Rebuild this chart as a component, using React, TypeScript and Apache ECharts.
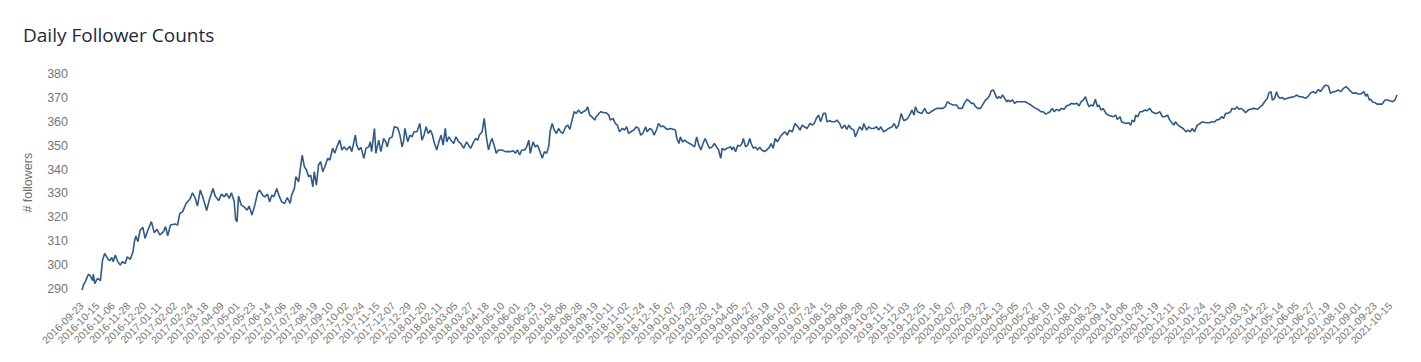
import React, { useEffect, useRef } from "react";
import * as echarts from "echarts";

// Daily category range of the x axis
const startDate = "2016-09-23";
const endDate = "2021-10-24";

// y-axis tick labels
const yTicks = [290, 300, 310, 320, 330, 340, 350, 360, 370, 380];

// Readings: [days since 2016-09-23, followers]
const readings2016to2017: [number, number][] = [
  [0, 289.6], [2, 291.6], [5, 293.3], [9, 296.2], [12, 295.4], [15, 293.5], [16, 296.2], [18, 292.3], [21, 294], [23, 294.4],
  [26, 293.5], [29, 302.1], [32, 304.9], [36, 302.8], [39, 301.8], [42, 303.2], [44, 301.4], [47, 304.2], [50, 301.8], [54, 300],
  [57, 301.4], [61, 300.7], [64, 303.5], [68, 302.4], [72, 305.6], [74, 309.8], [76, 312.2], [79, 309.8], [82, 314.6], [86, 315.8],
  [89, 311.2], [93, 314.6], [98, 318.2], [102, 313.6], [106, 315], [110, 312.6], [115, 314], [118, 316.1], [121, 312.3], [125, 316.8],
  [131, 317.2], [135, 316.8], [138, 321.6], [142, 322.3], [147, 325.8], [153, 327.9], [156, 330.3], [160, 327.9], [163, 324.7], [167, 331.4],
  [170, 328.9], [173, 326.1], [176, 322.8], [180, 327.5], [185, 332.1], [188, 328.9], [193, 327], [197, 329.7], [201, 328.6], [204, 330],
  [208, 327.9], [211, 330.3], [215, 326.5], [217, 319.1], [219, 318.2], [221, 328.9], [225, 325.1], [229, 324.4], [233, 323], [236, 324.7],
  [240, 321], [244, 325.1], [248, 330.3], [251, 331.4], [255, 329.3], [258, 328.6], [262, 329.7], [265, 326.5], [268, 329.3], [271, 328.6],
  [275, 332.1], [278, 329.3], [282, 326.5], [286, 325.8], [290, 328.3],
];

const readings2017to2018: [number, number][] = [
  [294, 325.8], [296, 329.3], [300, 332.1], [302, 337], [306, 334.9], [308, 339.8], [311, 346], [314, 341.2], [317, 339.8], [320, 337],
  [323, 337.7], [326, 332.8], [328, 339.1], [331, 333.5], [334, 341.9], [337, 343.3], [340, 339.1], [343, 341.2], [347, 344.7], [350, 344],
  [354, 348.9], [357, 346.8], [360, 349.5], [364, 352.3], [367, 348.2], [370, 349.5], [374, 348.2], [378, 349.8], [381, 347.5], [386, 354.4],
  [388, 350.2], [391, 348.2], [394, 349.3], [398, 344.7], [401, 348.9], [405, 349.5], [407, 351.6], [409, 347.5], [413, 357.2], [415, 346.8],
  [419, 352.3], [422, 347.5], [426, 353], [429, 351.6], [431, 349.5], [434, 353], [438, 353.7], [441, 357.9], [445, 357.6], [447, 356.5],
  [449, 354.4], [452, 349.5], [454, 351.6], [456, 357.2], [460, 351.6], [463, 354.4], [466, 353.7], [469, 355.8], [473, 355.8], [477, 359.3],
  [480, 352.3], [483, 354.4], [486, 357.9], [489, 355.1], [492, 356.5], [495, 354.4], [497, 351.6], [501, 348.2], [504, 351.6], [507, 354.4],
  [510, 350.2], [513, 357.2], [515, 351.6], [518, 353.7], [521, 352.3], [525, 350.9], [528, 353.7], [532, 351.6], [535, 350.9], [539, 348.9],
  [543, 351.6], [546, 350.2], [549, 348.9], [553, 351.6], [556, 353], [559, 352.3], [561, 354.4], [565, 355.8], [568, 361.4], [571, 353.7],
  [574, 348.2], [577, 351.6], [579, 353], [582, 350.2], [585, 346.8], [588, 348.2], [593, 348.2], [598, 347.5], [602, 347.5],
];

const readings2018to2019: [number, number][] = [
  [605, 347.5], [609, 347.9], [612, 346.8], [615, 348.2], [618, 346.1], [621, 348.2], [625, 348.2], [628, 349.5], [631, 352.3], [633, 346.8],
  [637, 351.6], [640, 349.5], [643, 350.2], [646, 348.2], [650, 344.7], [653, 347.5], [656, 346.8], [659, 349.5], [661, 355.8], [664, 359.3],
  [667, 356.5], [670, 355.1], [673, 357.2], [676, 355.8], [679, 355.1], [683, 357.9], [686, 358.6], [689, 356.8], [692, 360.7], [695, 364.2],
  [698, 363.5], [701, 364.9], [705, 363.5], [708, 364.2], [712, 364.9], [714, 366.3], [717, 362.8], [720, 362.1], [724, 360.7], [726, 362.1],
  [730, 363.5], [733, 364.2], [737, 363.8], [740, 363.8], [744, 362.8], [746, 360.7], [750, 361.4], [753, 359.3], [756, 358.6], [759, 355.8],
  [763, 357.2], [766, 356.5], [769, 357.9], [772, 355.1], [775, 355.8], [779, 356.5], [783, 357.9], [786, 357.2], [789, 354.4], [792, 355.1],
  [796, 357.9], [798, 355.8], [802, 357.2], [805, 356.5], [808, 354.4], [812, 357.2], [814, 359.3], [818, 357.9], [821, 358.2], [826, 356.8],
  [831, 357.2], [836, 356.8], [838, 356.5], [840, 353], [843, 350.9], [845, 353.7], [848, 351.6], [851, 352.3], [854, 351.6], [858, 350.9],
  [862, 350.2], [865, 349.5], [868, 353.7], [871, 350.2], [874, 348.2], [877, 350.9], [880, 353], [884, 350.2], [886, 348.9], [890, 349.5],
  [893, 350.9], [896, 349.5], [899, 348.2], [902, 344.7], [904, 348.9], [907, 348.2], [911, 348.9],
];

const readings2019to2020: [number, number][] = [
  [916, 349.5], [918, 348.2], [920, 349.5], [923, 347.5], [926, 350.2], [929, 349.8], [932, 350.9], [934, 353], [937, 349.5], [940, 350.2],
  [943, 353], [945, 350.9], [948, 348.9], [951, 349.5], [954, 348.2], [957, 349.3], [960, 348.2], [964, 347.5], [967, 348.2], [971, 349.5],
  [973, 350.9], [976, 348.9], [979, 353], [982, 351.6], [986, 353.7], [990, 355.1], [993, 355.8], [996, 354.4], [999, 356.5], [1003, 355.8],
  [1007, 359.3], [1011, 357.9], [1014, 356.5], [1017, 358.6], [1020, 357.9], [1024, 357.2], [1028, 359.3], [1031, 358.6], [1034, 359.3], [1037, 361.4],
  [1040, 362.8], [1043, 360], [1047, 363.5], [1050, 363.5], [1052, 360], [1056, 360.4], [1059, 360], [1063, 360], [1066, 360.7], [1070, 359.3],
  [1073, 357.2], [1077, 358.6], [1080, 356.8], [1083, 358.6], [1086, 357.2], [1090, 356.5], [1092, 353.7], [1095, 355.8], [1098, 357.9], [1102, 356.5],
  [1104, 359.3], [1108, 356.5], [1111, 357.9], [1114, 357.2], [1118, 357.2], [1122, 357.9], [1125, 356.5], [1128, 357.9], [1132, 355.8], [1136, 356.5],
  [1139, 357.2], [1144, 357.9], [1147, 359.3], [1150, 357.2], [1153, 358.6], [1157, 363.5], [1160, 360.7], [1163, 360.7], [1166, 361.4], [1170, 363.5],
  [1172, 364.9], [1175, 362.8], [1177, 366.3], [1180, 364.2], [1183, 363.8], [1186, 363.5], [1190, 365.6], [1193, 363.8], [1196, 363.5], [1199, 364.2],
  [1203, 364.9], [1207, 365.6], [1211, 365.6], [1216, 365.6], [1219, 366.3], [1222, 368.4], [1225, 367.7],
];

const readings2020to2021: [number, number][] = [
  [1230, 367], [1235, 367], [1238, 365.6], [1243, 365.6], [1246, 367.7], [1250, 369.4], [1254, 368.4], [1256, 367.7], [1259, 367.7], [1262, 366.3],
  [1265, 365.6], [1269, 365.6], [1273, 367.7], [1276, 369.1], [1279, 369.8], [1282, 371.2], [1284, 373], [1287, 373.3], [1289, 371.9], [1292, 369.8],
  [1295, 370.5], [1297, 369.8], [1300, 371.2], [1303, 369.8], [1306, 368.4], [1308, 369.1], [1310, 368.4], [1314, 369.1], [1317, 367.7], [1320, 368.4],
  [1323, 368.4], [1328, 368.4], [1332, 368.4], [1336, 367.7], [1340, 367], [1343, 366.3], [1347, 365.6], [1350, 365.2], [1354, 364.2], [1357, 364.2],
  [1361, 363.2], [1363, 363.5], [1367, 364.2], [1370, 365.6], [1373, 364.2], [1376, 365.2], [1380, 364.6], [1383, 365.6], [1387, 365.2], [1390, 366.6],
  [1394, 367], [1397, 367.7], [1401, 367.4], [1405, 367.7], [1408, 366.6], [1411, 368.4], [1414, 369.1], [1417, 370.5], [1420, 367.7], [1422, 366.3],
  [1425, 367], [1428, 366.6], [1431, 369.4], [1434, 366.3], [1436, 367], [1439, 364.9], [1442, 365.6], [1446, 363.5], [1449, 362.8], [1453, 362.4],
  [1456, 362.1], [1460, 362.8], [1462, 361], [1466, 362.1], [1468, 360], [1471, 359.6], [1475, 359.3], [1478, 359.6], [1481, 358.6], [1483, 360.7],
  [1486, 360], [1488, 362.8], [1491, 362.1], [1494, 364.2], [1497, 364.2], [1501, 364.9], [1504, 364.6], [1508, 365.6], [1511, 364.2], [1515, 363.5],
  [1518, 363.5], [1522, 364.2], [1526, 362.1], [1529, 362.1], [1533, 362.8], [1536, 360.7],
];

const readings2021: [number, number][] = [
  [1540, 359.3], [1542, 358.6], [1544, 360], [1548, 358.6], [1551, 357.9], [1555, 357.2], [1559, 355.8], [1562, 356.5], [1565, 355.8], [1568, 357.2],
  [1571, 355.8], [1575, 358.6], [1579, 359.3], [1582, 360], [1587, 359.6], [1592, 359.6], [1596, 360], [1600, 360], [1602, 360.7], [1606, 361],
  [1609, 362.1], [1612, 361.4], [1615, 363.5], [1618, 363.5], [1622, 364.2], [1624, 365.6], [1628, 365.2], [1631, 366.3], [1634, 365.2], [1637, 365.6],
  [1640, 364.9], [1643, 363.8], [1647, 364.9], [1650, 365.2], [1655, 365.6], [1660, 365.2], [1664, 366.3], [1667, 367], [1670, 368.4], [1674, 369.8],
  [1676, 372.1], [1679, 372.6], [1681, 369.1], [1684, 369.8], [1687, 372.6], [1689, 370.7], [1692, 369.8], [1695, 370.2], [1698, 369.4], [1702, 369.8],
  [1707, 370.2], [1712, 370.5], [1715, 371.2], [1719, 370.5], [1723, 370.5], [1728, 369.8], [1731, 370.5], [1735, 372.1], [1739, 372.6], [1742, 371.9],
  [1746, 373.5], [1749, 372.6], [1753, 374.4], [1756, 375.4], [1760, 375], [1763, 371.9], [1767, 372.6], [1770, 372.6], [1774, 373.3], [1778, 372.6],
  [1781, 373.9], [1785, 374.7], [1788, 373.9], [1792, 372.6], [1795, 371.9], [1799, 372.1], [1802, 371.6], [1806, 371.6], [1810, 372.6], [1813, 370.7],
  [1815, 371.6], [1818, 369.1], [1820, 369.4], [1822, 368.4], [1826, 368], [1829, 367.4], [1833, 367.4], [1836, 367.4], [1840, 369.1], [1843, 369.1],
  [1847, 368.8], [1851, 368.4], [1854, 369.1], [1857, 371.2],
];

function buildDays(start: string, end: string): string[] {
  const out: string[] = [];
  const s = new Date(start + "T00:00:00Z").getTime();
  const e = new Date(end + "T00:00:00Z").getTime();
  for (let t = s; t <= e; t += 86400000) {
    out.push(new Date(t).toISOString().slice(0, 10));
  }
  return out;
}

export default function App() {
  const ref = useRef<HTMLDivElement>(null);
  useEffect(() => {
    document.body.style.margin = "0";
    if (!ref.current) return;
    const chart = echarts.init(ref.current, null, { renderer: "svg" });
    const days = buildDays(startDate, endDate);
    const all = [
      ...readings2016to2017,
      ...readings2017to2018,
      ...readings2018to2019,
      ...readings2019to2020,
      ...readings2020to2021,
      ...readings2021,
    ];
    chart.setOption({
      animation: false,
      backgroundColor: "#ffffff",
      title: {
        text: "Daily Follower Counts",
        left: 23,
        top: 25,
        padding: 0,
        textStyle: {
          fontFamily: "'Open Sans', sans-serif",
          fontSize: 19,
          fontWeight: "normal",
          color: "#202a3c",
        },
      },
      grid: { left: 82, right: 24, top: 69.2, bottom: 65.8, containLabel: false },
      xAxis: {
        type: "category",
        data: days,
        boundaryGap: false,
        axisLine: { show: false },
        axisTick: { show: false },
        splitLine: { show: false },
        axisLabel: {
          interval: 21,
          rotate: 45,
          margin: 8,
          color: "#777777",
          fontSize: 10.5,
          fontFamily: "'Liberation Sans', Arial, sans-serif",
        },
      },
      yAxis: {
        type: "value",
        min: 287,
        max: 382,
        name: "# followers",
        nameLocation: "middle",
        nameGap: 48,
        nameTextStyle: {
          color: "#6f6f6f",
          fontSize: 12.5,
          fontFamily: "'Liberation Sans', Arial, sans-serif",
        },
        axisLine: { show: false },
        axisTick: { show: false },
        splitLine: { show: false },
        axisLabel: {
          customValues: yTicks,
          margin: 14,
          color: "#777777",
          fontSize: 12.5,
          fontFamily: "'Liberation Sans', Arial, sans-serif",
        },
      },
      series: [
        {
          type: "line",
          data: all,
          showSymbol: false,
          lineStyle: { color: "#2e5a8a", width: 1.6 },
          itemStyle: { color: "#2e5a8a" },
        },
      ],
    });
    return () => chart.dispose();
  }, []);
  return <div ref={ref} style={{ width: 1421, height: 362 }} />;
}
